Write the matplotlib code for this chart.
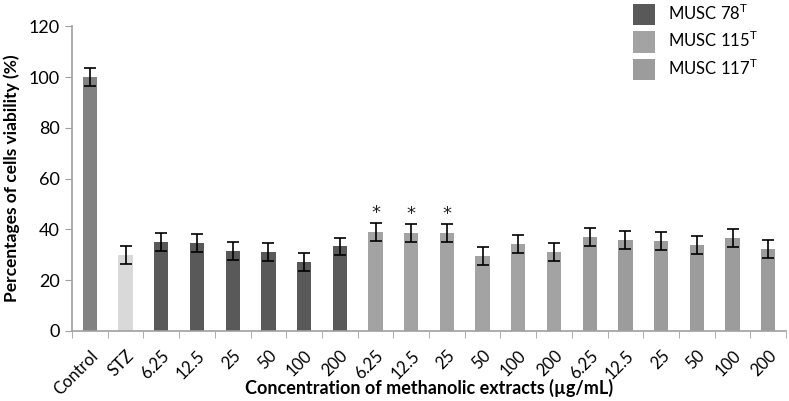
import matplotlib
matplotlib.use("Agg")
import matplotlib.pyplot as plt
from matplotlib.patches import Patch
import numpy as np

plt.rcParams['font.family'] = ['Lato', 'DejaVu Sans']

categories = ["Control", "STZ",
              "6.25", "12.5", "25", "50", "100", "200",
              "6.25", "12.5", "25", "50", "100", "200",
              "6.25", "12.5", "25", "50", "100", "200"]
groups = ["Control", "STZ"] + ["MUSC 78"] * 6 + ["MUSC 115"] * 6 + ["MUSC 117"] * 6
values = [100, 30,
          35.0, 34.5, 31.5, 31.2, 27.2, 33.3,
          39.1, 38.6, 38.7, 29.5, 34.4, 31.2,
          37.0, 35.8, 35.4, 34.0, 36.5, 32.3]
errors = [3.6, 3.5,
          3.5, 3.5, 3.5, 3.5, 3.5, 3.5,
          3.5, 3.5, 3.5, 3.5, 3.5, 3.5,
          3.5, 3.5, 3.5, 3.5, 3.5, 3.5]
significant = [False, False] + [False] * 6 + [True, True, True, False, False, False] + [False] * 6
group_colors = {"Control": "#828282", "STZ": "#d9d9d9",
                "MUSC 78": "#595959", "MUSC 115": "#a3a3a3", "MUSC 117": "#9c9c9c"}
legend_groups = ["MUSC 78", "MUSC 115", "MUSC 117"]

fig = plt.figure(figsize=(7.89, 4.01), dpi=100)
ax = fig.add_axes([0.0913, 0.1746, 0.905, 0.760])

x = np.arange(len(categories))
colors = [group_colors[g] for g in groups]
ax.bar(x, values, width=0.4, color=colors, zorder=2)
ax.errorbar(x, values, yerr=errors, fmt='none', ecolor='black', elinewidth=1.2,
            capsize=4, capthick=1.2, zorder=3)
for xi, v, e, s in zip(x, values, errors, significant):
    if s:
        ax.text(xi, v + e + 4.0, "*", ha='center', va='center', fontsize=13,
                family='DejaVu Sans', color='#222222')

ax.set_xlim(-0.5, len(categories) - 0.5)
ax.set_ylim(0, 120)
ax.set_yticks(np.arange(0, 121, 20))
ax.tick_params(axis='y', labelsize=13, length=5, color='#a0a0a0', pad=4)

ax.set_xticks(x)
ax.set_xticklabels(categories, rotation=45, ha='right', rotation_mode='anchor', fontsize=12)
ax.tick_params(axis='x', which='major', length=0, pad=12)
ax.set_xticks(np.arange(-0.5, len(categories) + 0.5, 1), minor=True)
ax.tick_params(axis='x', which='minor', length=5, color='#a0a0a0')

for side in ['top', 'right']:
    ax.spines[side].set_visible(False)
for side in ['left', 'bottom']:
    ax.spines[side].set_color('#a0a0a0')
    ax.spines[side].set_linewidth(1.2)

ax.set_ylabel("Percentages of cells viability (%)", fontsize=12.5, fontweight='bold', labelpad=6)
ax.set_xlabel("Concentration of methanolic extracts (\u00b5g/mL)", fontsize=13,
              fontweight='bold', va='center')
ax.xaxis.set_label_coords(0.5, -0.187)

handles = [Patch(facecolor=group_colors[g]) for g in legend_groups]
labels = [g + "$^{\\mathregular{T}}$" for g in legend_groups]
fig.legend(handles, labels, loc='upper left', bbox_to_anchor=(633 / 789, 1 - 3 / 401),
           frameon=False, fontsize=12, handlelength=1.3, handleheight=1.6,
           handletextpad=0.8, labelspacing=0.3, borderpad=0, borderaxespad=0)

fig.savefig("out.png", dpi=100)
